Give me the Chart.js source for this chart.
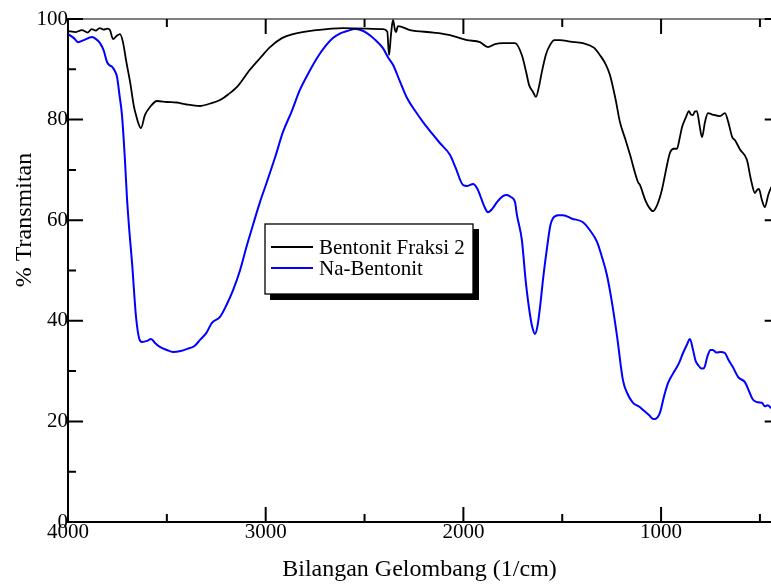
<!DOCTYPE html>
<html>
<head>
<meta charset="utf-8">
<script src="https://cdn.jsdelivr.net/npm/chart.js@4.4.1/dist/chart.umd.min.js"></script>
<style>
html, body { margin: 0; padding: 0; background: #fff; }
#wrap { width: 771px; height: 586px; }
</style>
</head>
<body>
<div id="wrap"><canvas id="ftir"></canvas></div>
<script>
// spectrum: wavenumber (1/cm) and % transmittance
const fraksi_wn = [4000, 3960, 3930, 3900, 3880, 3860, 3840, 3820, 3800, 3788, 3772, 3755, 3737, 3722, 3705, 3686,
	3666, 3656, 3646, 3631, 3611, 3585, 3550, 3500, 3449, 3400, 3332, 3280, 3231, 3190, 3145, 3080, 3029, 2978,
	2918, 2862, 2741, 2609, 2407, 2385, 2376, 2366, 2356, 2346, 2341, 2331, 2270, 2150, 2068, 1982, 1916, 1876,
	1840, 1800, 1739, 1704, 1680, 1668, 1648, 1633, 1618, 1603, 1582, 1562, 1540, 1511, 1460, 1395, 1340, 1309,
	1280, 1259, 1230, 1208, 1180, 1157, 1117, 1107, 1080, 1060, 1041, 1020, 996, 975, 955, 935, 920, 905, 894,
	874, 859, 849, 839, 829, 819, 806, 793, 778, 763, 740, 702, 677, 660, 640, 626, 600, 566, 545, 525, 515, 505,
	490, 475, 458, 444, 420];
const fraksi_t = [97.6, 97.4, 97.8, 97.3, 98.0, 97.7, 98.2, 97.9, 98.1, 97.8, 96.0, 96.6, 97.0, 95.4, 91.5, 87.5,
	82.5, 80.9, 79.5, 78.3, 80.9, 82.5, 83.7, 83.5, 83.4, 83.0, 82.7, 83.2, 83.9, 85.0, 86.5, 89.9, 92.2, 94.4,
	96.2, 97.0, 97.8, 98.2, 98.0, 97.5, 92.8, 97.0, 99.8, 97.8, 97.4, 98.6, 97.8, 97.3, 96.8, 95.8, 95.4, 94.4,
	95.0, 95.2, 95.2, 92.8, 89.0, 86.9, 85.5, 84.5, 86.5, 89.5, 93.0, 94.8, 95.8, 95.8, 95.5, 95.2, 94.3, 92.8,
	91.0, 88.9, 84.0, 79.5, 76.0, 73.0, 67.6, 67.0, 64.0, 62.5, 61.8, 63.0, 66.0, 70.0, 73.4, 74.2, 74.2, 76.5, 78.5,
	80.5, 81.7, 81.0, 80.9, 81.6, 81.7, 79.0, 76.5, 79.5, 81.3, 81.0, 80.7, 81.3, 79.5, 76.5, 75.9, 74.0, 72.0,
	68.0, 65.4, 66.0, 66.2, 64.0, 62.6, 65.0, 66.4, 67.5];

const na_wn = [4000, 3970, 3949, 3920, 3879, 3858, 3838, 3820, 3803, 3790, 3777, 3765, 3752, 3740, 3727, 3712,
	3702, 3690, 3676, 3656, 3640, 3626, 3600, 3580, 3560, 3535, 3500, 3469, 3430, 3398, 3360, 3332, 3300, 3272,
	3231, 3200, 3165, 3130, 3095, 3080, 3029, 2994, 2950, 2913, 2870, 2827, 2780, 2741, 2700, 2660, 2620, 2589,
	2548, 2520, 2488, 2450, 2407, 2380, 2356, 2320, 2285, 2240, 2204, 2160, 2118, 2068, 2040, 2002, 1980, 1951,
	1930, 1916, 1895, 1876, 1855, 1830, 1800, 1780, 1760, 1739, 1729, 1704, 1685, 1663, 1650, 1638, 1625, 1613,
	1595, 1577, 1560, 1547, 1520, 1496, 1450, 1395, 1360, 1324, 1300, 1274, 1250, 1223, 1193, 1170, 1142, 1110,
	1092, 1060, 1040, 1031, 1006, 985, 965, 940, 920, 905, 889, 870, 854, 840, 825, 813, 795, 783, 765, 750, 738,
	720, 700, 677, 660, 637, 610, 576, 555, 535, 510, 490, 475, 460, 444, 420];
const na_t = [97.0, 96.2, 95.4, 95.8, 96.4, 96.0, 95.2, 93.8, 91.5, 90.8, 90.5, 89.8, 88.5, 85.0, 80.9, 72.0,
	64.6, 58.0, 51.5, 40.8, 36.5, 35.8, 36.0, 36.4, 35.6, 34.8, 34.2, 33.8, 34.0, 34.4, 35.0, 36.2, 37.6, 39.6,
	40.8, 43.0, 46.1, 50.0, 55.0, 57.0, 63.6, 67.6, 72.8, 77.5, 81.5, 85.9, 89.5, 92.2, 94.5, 96.2, 97.2, 97.6,
	98.0, 97.8, 97.2, 96.0, 94.2, 92.3, 90.9, 87.5, 84.3, 81.5, 79.5, 77.3, 75.3, 73.0, 70.5, 67.0, 66.8, 67.2,
	66.3, 65.0, 62.8, 61.6, 62.2, 63.6, 64.8, 65.0, 64.6, 63.6, 61.0, 56.0, 48.0, 41.2, 38.5, 37.4, 39.0, 42.5,
	49.0, 54.5, 59.0, 60.4, 61.0, 61.0, 60.3, 59.6, 58.0, 55.7, 52.8, 49.1, 44.0, 37.0, 28.2, 25.5, 23.7, 22.9,
	22.3, 21.2, 20.5, 20.5, 21.7, 25.0, 27.6, 29.5, 30.8, 32.0, 33.6, 35.2, 36.4, 34.5, 32.0, 31.2, 30.5, 30.6,
	33.0, 34.2, 34.2, 33.7, 33.8, 33.6, 32.3, 30.8, 28.8, 27.8, 26.0, 24.3, 23.8, 23.7, 23.0, 23.2, 22.7, 22.5];

const x_major = [4000, 3000, 2000, 1000];
const x_minor = [3500, 2500, 1500, 500];
const y_major = [0, 20, 40, 60, 80, 100];
const y_minor = [10, 30, 50, 70, 90];
const x_end = 400; // the frame closes at 400, just past the cropped right edge
const series_names = ["Bentonit Fraksi 2", "Na-Bentonit"];
const series_colors = ["#000000", "#0000ff"];
const x_title = "Bilangan Gelombang (1/cm)";
const y_title = "% Transmitan";

const serif = "'Liberation Serif', 'Times New Roman', serif";

function to_points (wn, t) {
	return wn.map((w, i) => ({ x: w, y: t[i] }));
}

// frame with inward ticks, rotated y title and the boxed legend
const frame_plugin = {
	id: "frame_plugin",
	afterDraw (chart) {
		let ctx = chart.ctx;
		let a = chart.chartArea;
		let xs = chart.scales.x;
		let ys = chart.scales.y;
		let right = xs.getPixelForValue(x_end);
		ctx.save();
		ctx.strokeStyle = "#000";
		ctx.lineCap = "butt";

		ctx.lineWidth = 1.2;
		ctx.beginPath();
		ctx.moveTo(a.left, a.top);
		ctx.lineTo(right, a.top);
		ctx.lineTo(right, a.bottom);
		ctx.stroke();
		ctx.lineWidth = 2;
		ctx.beginPath();
		ctx.moveTo(a.left, a.top - 1);
		ctx.lineTo(a.left, a.bottom);
		ctx.lineTo(right, a.bottom);
		ctx.stroke();

		ctx.lineWidth = 2;
		let tick = (list, len) => {
			list.forEach(v => {
				let px = xs.getPixelForValue(v);
				ctx.beginPath();
				ctx.moveTo(px, a.bottom);
				ctx.lineTo(px, a.bottom - len);
				ctx.moveTo(px, a.top);
				ctx.lineTo(px, a.top + len);
				ctx.stroke();
			});
		};
		tick(x_major, 15);
		tick(x_minor, 8);
		let ytick = (list, len) => {
			list.forEach(v => {
				let py = ys.getPixelForValue(v);
				ctx.beginPath();
				ctx.moveTo(a.left, py);
				ctx.lineTo(a.left + len, py);
				ctx.moveTo(right, py);
				ctx.lineTo(right - len, py);
				ctx.stroke();
			});
		};
		ytick(y_major, 15);
		ytick(y_minor, 8);

		// y title
		ctx.save();
		ctx.translate(25, 220);
		ctx.rotate(-Math.PI / 2);
		ctx.fillStyle = "#000";
		ctx.font = "24px " + serif;
		ctx.textAlign = "center";
		ctx.textBaseline = "middle";
		ctx.fillText(y_title, 0, 0);
		ctx.restore();

		// legend
		let bx = 265, by = 224, bw = 208, bh = 70;
		ctx.fillStyle = "#000";
		ctx.fillRect(bx + 5, by + 5, bw + 1, bh + 1);
		ctx.fillStyle = "#fff";
		ctx.fillRect(bx, by, bw, bh);
		ctx.lineWidth = 1.3;
		ctx.strokeStyle = "#000";
		ctx.strokeRect(bx, by, bw, bh);
		ctx.font = "21px " + serif;
		ctx.textAlign = "left";
		ctx.textBaseline = "middle";
		series_names.forEach((name, i) => {
			let ly = by + 23 + i * 21;
			ctx.strokeStyle = series_colors[i];
			ctx.lineWidth = 1.8;
			ctx.beginPath();
			ctx.moveTo(bx + 6, ly);
			ctx.lineTo(bx + 48, ly);
			ctx.stroke();
			ctx.fillStyle = "#000";
			ctx.fillText(name, bx + 54, ly + 1);
		});
		ctx.restore();
	}
};

const config = {
	type: "line",
	data: {
		datasets: [
			{
				label: series_names[0],
				data: to_points(fraksi_wn, fraksi_t),
				borderColor: series_colors[0],
				borderWidth: 1.8,
				pointRadius: 0,
				cubicInterpolationMode: "monotone",
				fill: false
			},
			{
				label: series_names[1],
				data: to_points(na_wn, na_t),
				borderColor: series_colors[1],
				borderWidth: 2,
				pointRadius: 0,
				cubicInterpolationMode: "monotone",
				fill: false
			}
		]
	},
	options: {
		responsive: true,
		maintainAspectRatio: false,
		animation: false,
		layout: { padding: { top: 19, right: 0, left: 0, bottom: 0 } },
		plugins: {
			legend: { display: false },
			tooltip: { enabled: false }
		},
		scales: {
			x: {
				type: "linear",
				reverse: true,
				min: 444,
				max: 4000,
				afterBuildTicks: s => { s.ticks = x_major.map(v => ({ value: v })); },
				afterFit: s => { s.height = 64; },
				grid: { display: false, drawTicks: false },
				border: { display: false },
				ticks: {
					padding: 0,
					maxRotation: 0,
					autoSkip: false,
					color: "#000",
					font: { family: serif, size: 21, lineHeight: 1 },
					callback: v => String(v)
				},
				title: {
					display: true,
					text: x_title,
					color: "#000",
					font: { family: serif, size: 24, lineHeight: 1.2 },
					padding: { top: 0, bottom: 2 }
				}
			},
			y: {
				min: 0,
				max: 100,
				afterBuildTicks: s => { s.ticks = y_major.map(v => ({ value: v })); },
				afterFit: s => { s.width = 68; },
				grid: { display: false, drawTicks: false },
				border: { display: false },
				ticks: {
					padding: 0,
					autoSkip: false,
					color: "#000",
					font: { family: serif, size: 21, lineHeight: 1 },
					callback: v => String(v)
				}
			}
		}
	},
	plugins: [frame_plugin]
};

new Chart(document.getElementById("ftir"), config);
</script>
</body>
</html>
